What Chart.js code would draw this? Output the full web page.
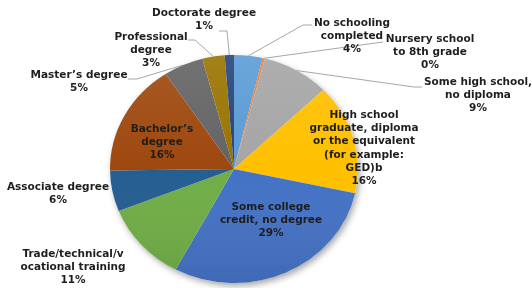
<!DOCTYPE html>
<html>
<head>
<meta charset="utf-8">
<script src="https://cdn.jsdelivr.net/npm/chart.js@4/dist/chart.umd.min.js"></script>
<style>
  html, body { margin: 0; padding: 0; background: #fff; }
  #wrap { width: 532px; height: 288px; position: relative; }
</style>
</head>
<body>
<div id="wrap"><canvas id="myChart"></canvas></div>
<script>
// data
const categories = [
  "No schooling completed",
  "Nursery school to 8th grade",
  "Some high school, no diploma",
  "High school graduate, diploma or the equivalent (for example: GED)b",
  "Some college credit, no degree",
  "Trade/technical/vocational training",
  "Associate degree",
  "Bachelor\u2019s degree",
  "Master\u2019s degree",
  "Professional degree",
  "Doctorate degree"
];
const shares = [3.7, 0.3, 8.8, 15.6, 29.4, 11.2, 5.8, 15.9, 5.2, 2.9, 1.2];

// how each label is wrapped (the percent line is added from the value)
const labelLines = [
  ["No schooling", "completed"],
  ["Nursery school", "to 8th grade"],
  ["Some high school,", "no diploma"],
  ["High school", "graduate, diploma", "or the equivalent", "(for example:", "GED)b"],
  ["Some college", "credit, no degree"],
  ["Trade/technical/v", "ocational training"],
  ["Associate degree"],
  ["Bachelor\u2019s", "degree"],
  ["Master\u2019s degree"],
  ["Professional", "degree"],
  ["Doctorate degree"]
];

const colours = [
  "#5B9BD5", "#ED7D31", "#A5A5A5", "#FFC000", "#4472C4", "#70AD47",
  "#255E91", "#9E480E", "#636363", "#997300", "#264478"
];

// layout: label centre x / first line y, and leader line points on the label side
const labelAt = [
  [352, 23], [430, 39], [478, 82], [364, 115], [271, 207], [73, 254],
  [58, 187], [162, 129], [79, 75], [151, 37], [204, 13]
];
const leaders = {
  0: [[312, 25], [303, 25]],
  1: [[383, 42]],
  2: [[422, 87], [414, 87]],
  8: [[128, 79], [137, 79]],
  9: [[188, 40], [195, 40]],
  10: [[219, 31], [227, 31]]
};
const LINE_H = 13.3;
const PIE_CY = 169;      // where the squashed pie is centred
const PIE_SY = 114 / 124; // vertical squash of the pie

const ellipsePie = {
  id: "ellipsePie",
  beforeDatasetsDraw(chart) {
    const arc = chart.getDatasetMeta(0).data[0];
    const ctx = chart.ctx;
    ctx.save();
    ctx.translate(arc.x, PIE_CY);
    ctx.scale(1, PIE_SY);
    ctx.translate(-arc.x, -arc.y);
    // soft shadow under the pie
    ctx.save();
    ctx.shadowColor = "rgba(0,0,0,0.35)";
    ctx.shadowBlur = 6;
    ctx.shadowOffsetX = 2;
    ctx.shadowOffsetY = 3;
    ctx.beginPath();
    ctx.arc(arc.x, arc.y, arc.outerRadius, 0, Math.PI * 2);
    ctx.fillStyle = "#fff";
    ctx.fill();
    ctx.restore();
  },
  afterDatasetsDraw(chart) {
    const ctx = chart.ctx;
    const arc = chart.getDatasetMeta(0).data[0];
    // light-to-dark sheen over the slices
    const g = ctx.createLinearGradient(0, arc.y - arc.outerRadius, 0, arc.y + arc.outerRadius);
    g.addColorStop(0, "rgba(255,255,255,0.10)");
    g.addColorStop(0.5, "rgba(255,255,255,0)");
    g.addColorStop(1, "rgba(0,0,0,0.08)");
    ctx.beginPath();
    ctx.arc(arc.x, arc.y, arc.outerRadius, 0, Math.PI * 2);
    ctx.fillStyle = g;
    ctx.fill();
    ctx.restore();

    const meta = chart.getDatasetMeta(0);
    // leader lines
    ctx.save();
    ctx.strokeStyle = "#A6A6A6";
    ctx.lineWidth = 1;
    Object.keys(leaders).forEach((k) => {
      const a = meta.data[k];
      const mid = (a.startAngle + a.endAngle) / 2;
      const ex = a.x + a.outerRadius * Math.cos(mid);
      const ey = PIE_CY + a.outerRadius * PIE_SY * Math.sin(mid);
      const pts = leaders[k];
      ctx.beginPath();
      ctx.moveTo(pts[0][0], pts[0][1]);
      for (let j = 1; j < pts.length; j++) ctx.lineTo(pts[j][0], pts[j][1]);
      ctx.lineTo(ex, ey);
      ctx.stroke();
    });
    ctx.restore();

    // data labels
    ctx.save();
    ctx.font = "bold 10.5px 'DejaVu Sans', Verdana, sans-serif";
    ctx.fillStyle = "#1e1e1e";
    ctx.textAlign = "center";
    ctx.textBaseline = "middle";
    shares.forEach((v, i) => {
      const lines = labelLines[i].concat([Math.round(v) + "%"]);
      lines.forEach((t, j) => {
        ctx.fillText(t, labelAt[i][0], labelAt[i][1] + j * LINE_H);
      });
    });
    ctx.restore();
  }
};

const ctx = document.getElementById("myChart").getContext("2d");
const myChart = new Chart(ctx, {
  type: "pie",
  data: {
    labels: categories,
    datasets: [
      {
        data: shares,
        backgroundColor: colours,
        borderWidth: 0,
      },
    ],
  },
  options: {
    responsive: true,
    maintainAspectRatio: false,
    animation: false,
    layout: { padding: { left: 110, right: 174, top: 20, bottom: 20 } },
    plugins: {
      legend: { display: false },
      tooltip: { enabled: false },
    },
  },
  plugins: [ellipsePie],
});
</script>
</body>
</html>
